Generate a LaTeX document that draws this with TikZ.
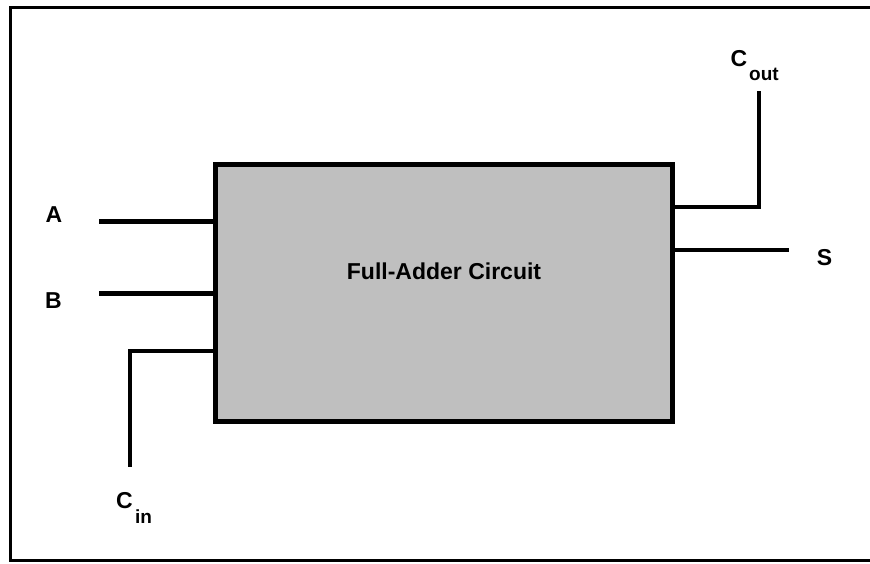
\documentclass[tikz,border=0pt]{standalone}
\usepackage{fontspec}
\setmainfont{Liberation Sans}
\begin{document}
\begin{tikzpicture}[x=1pt,y=-1pt,
  wire/.style={line width=4.5pt},
  lbl/.style={anchor=base,inner sep=0pt,font=\fontsize{23}{23}\selectfont\bfseries},
  sublbl/.style={anchor=base,inner sep=0pt,font=\fontsize{19}{19}\selectfont\bfseries},
  blockbox/.style={draw=black,line width=5pt,fill=black!25,rectangle,inner sep=0pt,outer sep=0pt,minimum width=457pt,minimum height=257pt}]
\useasboundingbox (0,0) rectangle (870,563);
\fill[white] (0,0) rectangle (870,563);
% frame
\draw[line width=3pt] (875,7) -- (10.5,7) -- (10.5,560.5) -- (875,560.5);
% block
\node[blockbox] (box) at (444,293) {};
\node[lbl] (title) at (444,279) {Full-Adder Circuit};
% labels
\node[lbl] (la) at (54,222) {A};
\node[lbl] (lb) at (53.5,308) {B};
\node[lbl] (ls) at (824.5,265) {S};
\node[lbl] (lcout) at (739,66) {C};
\node[sublbl] (lcoutsub) at (764,80) {out};
\node[lbl] (lcin) at (124.5,508) {C};
\node[sublbl] (lcinsub) at (143.5,523) {in};
% wire ends
\coordinate (ea) at (99,221.5);
\coordinate (eb) at (99,293.5);
\coordinate (ecinbend) at (130,351);
\coordinate (ecin) at (130,466.7);
\coordinate (ecoutbend) at (759,207);
\coordinate (ecout) at (759,90.7);
\coordinate (es) at (789,250);
% wires
\draw[wire] (ea) -- (box.west |- ea);
\draw[wire] (eb) -- (box.west |- eb);
\draw[wire] (ecin) -- (ecinbend) -- (box.west |- ecinbend);
\draw[wire] (box.east |- ecoutbend) -- (ecoutbend) -- (ecout);
\draw[wire] (box.east |- es) -- (es);
\end{tikzpicture}
\end{document}
